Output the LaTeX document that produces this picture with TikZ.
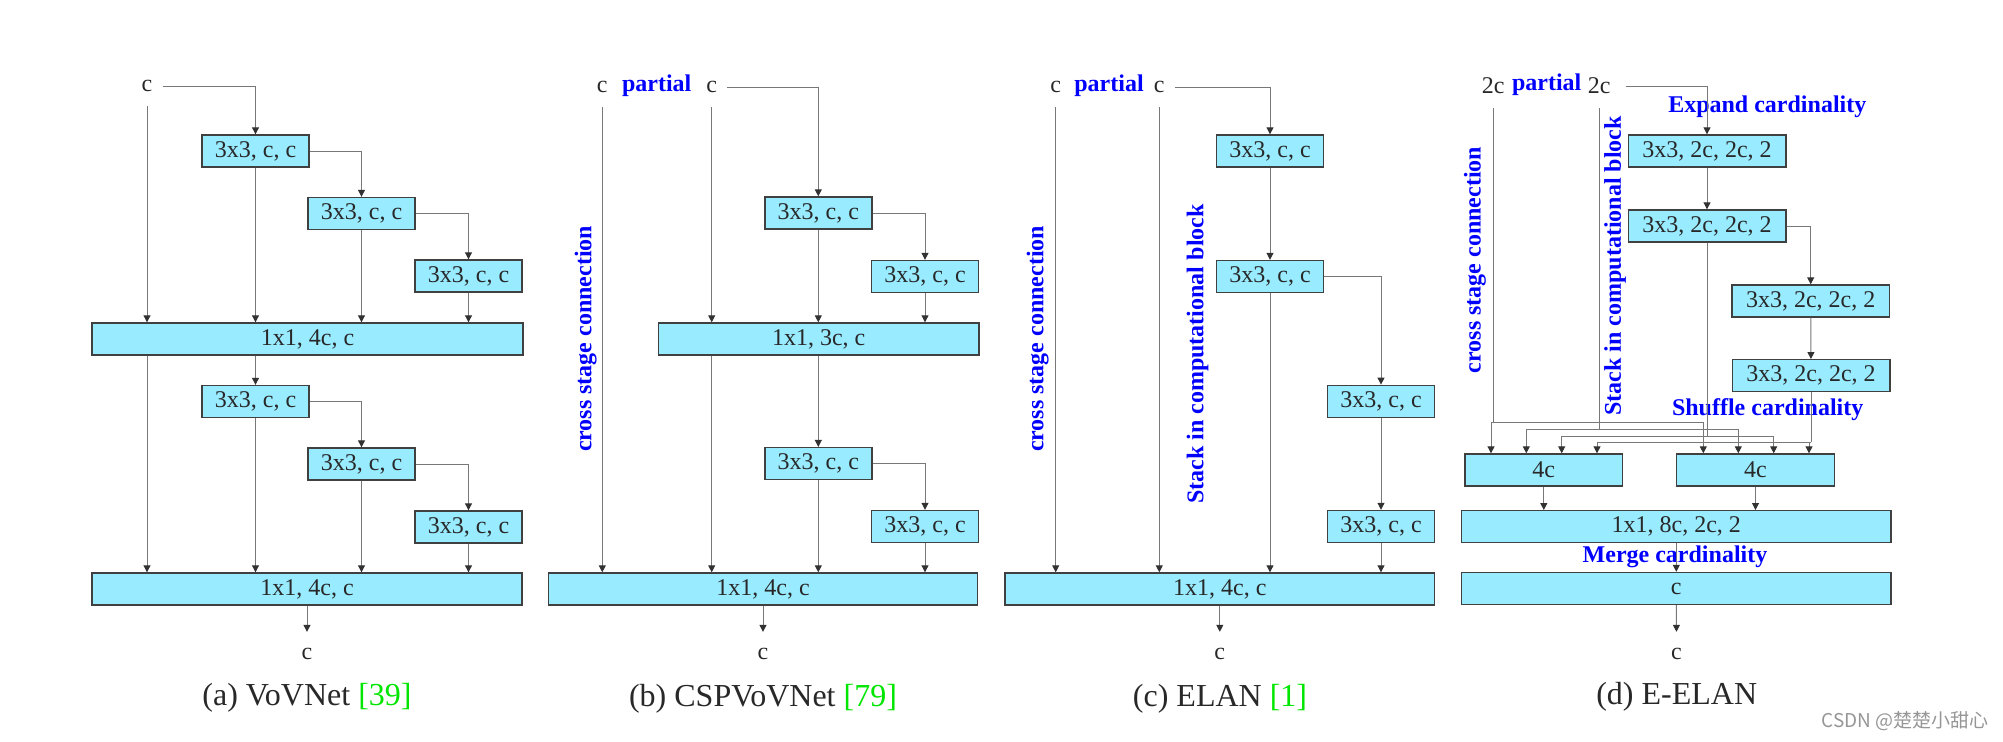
\documentclass[tikz,border=0pt]{standalone}
\usepackage{fontspec}
\setmainfont{Liberation Serif}
\newfontfamily\cjkfont{Noto Sans CJK SC}
\usetikzlibrary{arrows.meta,calc}
\definecolor{boxfill}{RGB}{153,235,255}
\definecolor{boxline}{RGB}{64,64,64}
\definecolor{lncol}{RGB}{120,120,120}
\definecolor{tipcol}{RGB}{50,50,50}
\definecolor{txtcol}{RGB}{40,40,40}
\definecolor{lblblue}{RGB}{0,0,255}
\definecolor{refgreen}{RGB}{0,230,0}
\definecolor{wmgray}{RGB}{150,150,150}
\begin{document}
\begin{tikzpicture}[x=0.5pt,y=-0.5pt,
  blk/.style={draw=boxline, fill=boxfill, line width=0.7pt, minimum height=16pt, inner sep=0pt, text=txtcol, font=\fontsize{12}{14}\selectfont},
  sblk/.style={blk, minimum width=53.5pt},
  wblk/.style={blk, minimum width=78.8pt},
  lbl/.style={inner sep=0pt, text=txtcol, font=\fontsize{12}{14}\selectfont},
  bluelbl/.style={inner sep=0pt, text=lblblue, font=\bfseries\fontsize{12}{14}\selectfont},
  captxt/.style={inner sep=0pt, text=txtcol, font=\fontsize{16}{18}\selectfont},
  ln/.style={draw=lncol, line width=0.5pt},
  arr/.style={ln, -{Triangle[width=3.5pt,length=3.5pt,color=tipcol]}},
  fromlbl/.style={shorten <=7pt},
  fromside/.style={shorten <=5pt},
  tolbl/.style={shorten >=8pt},
]
\useasboundingbox (0,0) rectangle (2003,741);

% ---------------- (a) VoVNet ----------------
\node[lbl] (ac) at (147,86) {c};
\node[sblk] (aB1) at (255.5,151) {3x3, c, c};
\node[sblk] (aB2) at (361.5,213.5) {3x3, c, c};
\node[sblk] (aB3) at (468.5,276) {3x3, c, c};
\node[blk, minimum width=215.5pt] (aM1) at (307.5,339) {1x1, 4c, c};
\node[sblk] (aB4) at (255.5,401.5) {3x3, c, c};
\node[sblk] (aB5) at (361.5,464) {3x3, c, c};
\node[sblk] (aB6) at (468.5,527) {3x3, c, c};
\node[blk, minimum width=215pt] (aM2) at (307,589) {1x1, 4c, c};
\node[lbl] (aout) at (307,654) {c};
\node[captxt] (acap) at (307,698) {(a) VoVNet \textcolor{refgreen}{[39]}};

\draw[arr, fromside] (ac) -| (aB1);
\draw[arr, fromlbl] (ac) -- (ac |- aM1.north);
\draw[arr] (aB1) -| (aB2);
\draw[arr] (aB2) -| (aB3);
\draw[arr] (aB1) -- (aB1 |- aM1.north);
\draw[arr] (aB2) -- (aB2 |- aM1.north);
\draw[arr] (aB3) -- (aB3 |- aM1.north);
\draw[arr] (aB4 |- aM1.south) -- (aB4);
\draw[arr] (ac |- aM1.south) -- (ac |- aM2.north);
\draw[arr] (aB4) -| (aB5);
\draw[arr] (aB5) -| (aB6);
\draw[arr] (aB4) -- (aB4 |- aM2.north);
\draw[arr] (aB5) -- (aB5 |- aM2.north);
\draw[arr] (aB6) -- (aB6 |- aM2.north);
\draw[arr, tolbl] (aM2) -- (aout);

% ---------------- (b) CSPVoVNet ----------------
\node[lbl] (bc1) at (602.3,87) {c};
\node[bluelbl] (bp) at (656.7,86) {partial};
\node[lbl] (bc2) at (711.7,87) {c};
\node[sblk] (bB1) at (818.3,213) {3x3, c, c};
\node[sblk] (bB2) at (925,276.5) {3x3, c, c};
\node[blk, minimum width=160.4pt] (bM1) at (818.7,339) {1x1, 3c, c};
\node[sblk] (bB3) at (818.3,463.6) {3x3, c, c};
\node[sblk] (bB4) at (925,526.5) {3x3, c, c};
\node[blk, minimum width=214.7pt] (bM2) at (763,589) {1x1, 4c, c};
\node[lbl] (bout) at (763,654) {c};
\node[captxt] (bcap) at (763,699) {(b) CSPVoVNet \textcolor{refgreen}{[79]}};
\node[bluelbl, rotate=90] (bcsc) at (585.7,338.8) {cross stage connection};

\draw[arr, fromside] (bc2) -| (bB1);
\draw[arr, fromlbl] (bc1) -- (bc1 |- bM2.north);
\draw[arr, fromlbl] (bc2) -- (bc2 |- bM1.north);
\draw[arr] (bc2 |- bM1.south) -- (bc2 |- bM2.north);
\draw[arr] (bB1) -| (bB2);
\draw[arr] (bB1) -- (bB1 |- bM1.north);
\draw[arr] (bB2) -- (bB2 |- bM1.north);
\draw[arr] (bB3 |- bM1.south) -- (bB3);
\draw[arr] (bB3) -| (bB4);
\draw[arr] (bB3) -- (bB3 |- bM2.north);
\draw[arr] (bB4) -- (bB4 |- bM2.north);
\draw[arr, tolbl] (bM2) -- (bout);

% ---------------- (c) ELAN ----------------
\node[lbl] (cc1) at (1055.7,87) {c};
\node[bluelbl] (cp) at (1109,86) {partial};
\node[lbl] (cc2) at (1159.3,87) {c};
\node[sblk] (cB1) at (1270,151) {3x3, c, c};
\node[sblk] (cB2) at (1270,276.5) {3x3, c, c};
\node[sblk] (cB3) at (1381,401.3) {3x3, c, c};
\node[sblk] (cB4) at (1381,526.5) {3x3, c, c};
\node[blk, minimum width=214.8pt] (cM) at (1219.8,589) {1x1, 4c, c};
\node[lbl] (cout) at (1219.8,654) {c};
\node[captxt] (ccap) at (1220,699) {(c) ELAN \textcolor{refgreen}{[1]}};
\node[bluelbl, rotate=90] (ccsc) at (1037.7,338.8) {cross stage connection};
\node[bluelbl, rotate=90] (cstk) at (1197.7,354) {Stack in computational block};

\draw[arr, fromside] (cc2) -| (cB1);
\draw[arr] (cB1) -- (cB2);
\draw[arr] (cB2) -| (cB3);
\draw[arr] (cB3) -- (cB4);
\draw[arr, fromlbl] (cc1) -- (cc1 |- cM.north);
\draw[arr, fromlbl] (cc2) -- (cc2 |- cM.north);
\draw[arr] (cB2) -- (cB2 |- cM.north);
\draw[arr] (cB4) -- (cB4 |- cM.north);
\draw[arr, tolbl] (cM) -- (cout);

% ---------------- (d) E-ELAN ----------------
\node[lbl] (dc1) at (1493.3,86) {2c};
\node[bluelbl] (dp) at (1546.7,85) {partial};
\node[lbl] (dc2) at (1599.3,86) {2c};
\node[bluelbl] (dexp) at (1767.3,107) {Expand cardinality};
\node[wblk] (dB1) at (1707,151) {3x3, 2c, 2c, 2};
\node[wblk] (dB2) at (1707,226) {3x3, 2c, 2c, 2};
\node[wblk] (dB3) at (1810.7,301) {3x3, 2c, 2c, 2};
\node[wblk] (dB4) at (1811,375.7) {3x3, 2c, 2c, 2};
\node[bluelbl] (dshf) at (1767.7,410) {Shuffle cardinality};
\node[wblk] (dL4) at (1543.8,470) {4c};
\node[wblk] (dR4) at (1755.5,470) {4c};
\node[blk, minimum width=214.7pt] (dM) at (1676.3,526.7) {1x1, 8c, 2c, 2};
\node[bluelbl] (dmrg) at (1675,557) {Merge cardinality};
\node[blk, minimum width=214.7pt] (dC) at (1676.3,588.5) {c};
\node[lbl] (dout) at (1676.5,654) {c};
\node[captxt] (dcap) at (1676.7,697) {(d) E-ELAN};
\node[bluelbl, rotate=90] (dcsc) at (1475,260) {cross stage connection};
\node[bluelbl, rotate=90] (dstk) at (1615,265.8) {Stack in computational block};

\draw[arr, shorten <=7.5pt] (dc2) -| (dB1);
\draw[arr] (dB1) -- (dB2);
\draw[arr] (dB2) -| (dB3);
\draw[arr] (dB3) -- (dB4);

\coordinate (j1) at (1493.3,422.7);
\coordinate (j2) at (1599.3,429.3);
\coordinate (j3) at (1707,436);
\coordinate (j4) at (1811,442.3);
\draw[ln, fromlbl] (dc1) -- (j1);
\draw[ln, fromlbl] (dc2) -- (j2);
\draw[ln] (dB2) -- (j3);
\draw[ln] (dB4) -- (j4);
\draw[arr] (j1) -| ($(dL4.north)+(-52.8,0)$);
\draw[arr] (j1) -| ($(dR4.north)+(-52.2,0)$);
\draw[arr] (j2) -| ($(dL4.north)+(-17.5,0)$);
\draw[arr] (j2) -| ($(dR4.north)+(-17.2,0)$);
\draw[arr] (j3) -| ($(dL4.north)+(17.9,0)$);
\draw[arr] (j3) -| ($(dR4.north)+(18.2,0)$);
\draw[arr] (j4) -| ($(dL4.north)+(53.2,0)$);
\draw[arr] (j4) -| ($(dR4.north)+(53.5,0)$);

\draw[arr] (dL4) -- (dL4 |- dM.north);
\draw[arr] (dR4) -- (dR4 |- dM.north);
\draw[arr] (dM) -- (dC);
\draw[arr, tolbl] (dC) -- (dout);

\node[text=wmgray, inner sep=0pt, font=\cjkfont\fontsize{9.5}{11}\selectfont] (wm) at (1905,721) {CSDN @楚楚小甜心};
\end{tikzpicture}
\end{document}
